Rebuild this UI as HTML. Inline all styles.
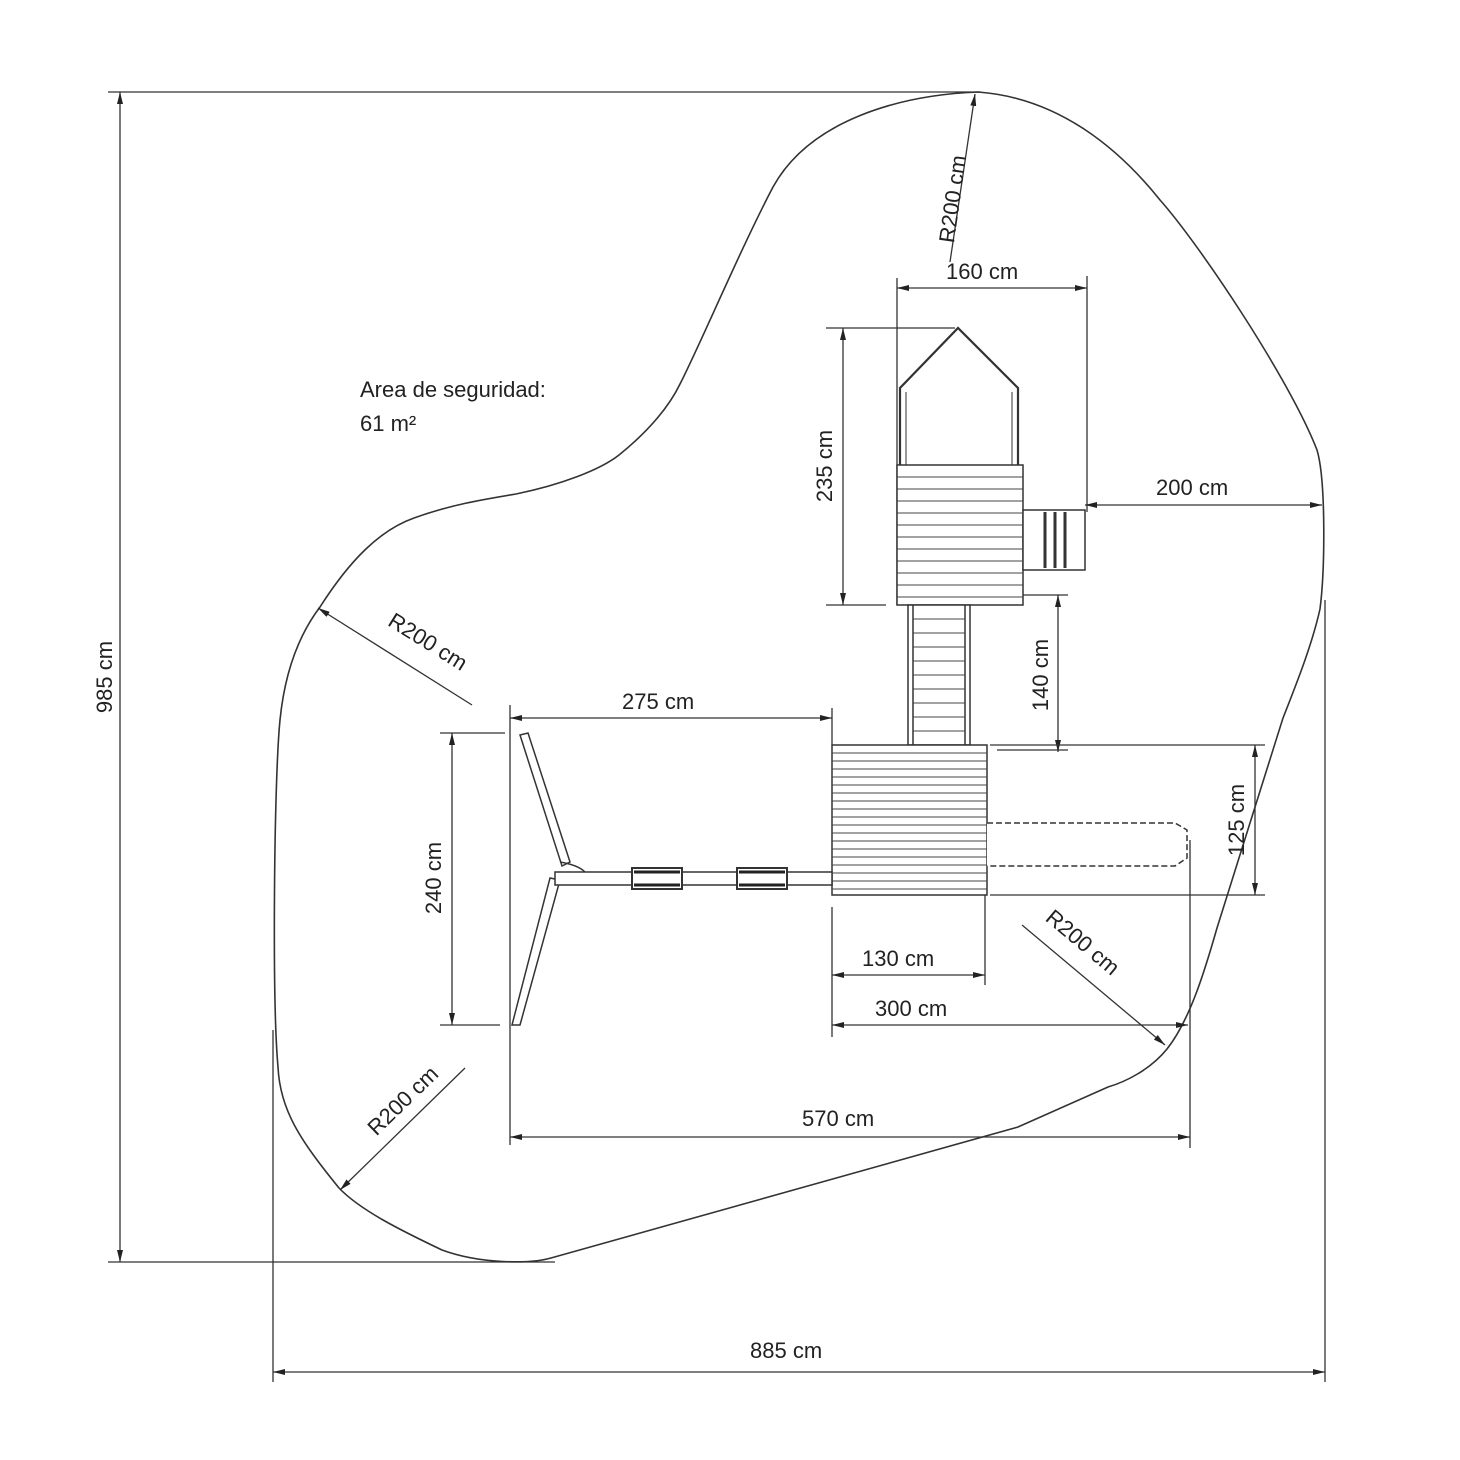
<!DOCTYPE html>
<html><head><meta charset="utf-8"><style>
html,body{margin:0;padding:0;background:#fff;}
svg{display:block;}
text{font-family:"Liberation Sans",Arial,sans-serif;fill:#222;}
</style></head><body>
<svg width="1460" height="1460" viewBox="0 0 1460 1460" xmlns="http://www.w3.org/2000/svg">
<defs>
<marker id="a" viewBox="0 0 12 6" refX="12" refY="3" markerWidth="12" markerHeight="6" orient="auto-start-reverse" markerUnits="userSpaceOnUse"><path d="M0,0 L12,3 L0,6 z" fill="#222"/></marker>
</defs>
<g fill="none" stroke="#333" stroke-width="1.6">
<path d="M978,92 C1060,98 1120,150 1160,200 C1200,245 1290,380 1317,450 C1326,480 1325,570 1320,609 C1312,645 1296,685 1283,718 L1217,928 C1205,970 1190,1020 1167,1049 C1150,1070 1125,1082 1108,1087 L1018,1127 L551,1258 C530,1264 480,1264 442,1250 C400,1230 360,1210 339,1188 C300,1140 280,1110 278,1067 C272,1000 274,780 280,720 C284,680 295,640 320,607 C350,560 380,530 414,518 C450,505 480,500 516,494 C560,485 600,470 619,455 C650,430 670,405 680,384 C700,345 740,250 773,187 C810,120 900,95 978,92 Z"/>
</g>
<g stroke="#333" stroke-width="1.3" fill="none">
<line x1="108" y1="92" x2="980" y2="92"/>
<line x1="108" y1="1262" x2="555" y2="1262"/>
<line x1="120" y1="92" x2="120" y2="1262" marker-start="url(#a)" marker-end="url(#a)"/>
<line x1="273" y1="1030" x2="273" y2="1382"/>
<line x1="1325" y1="600" x2="1325" y2="1382"/>
<line x1="273" y1="1372" x2="1325" y2="1372" marker-start="url(#a)" marker-end="url(#a)"/>
<line x1="975" y1="94" x2="950" y2="262" marker-start="url(#a)"/>
<line x1="897" y1="278" x2="897" y2="605"/>
<line x1="1087" y1="276" x2="1087" y2="512"/>
<line x1="897" y1="288" x2="1087" y2="288" marker-start="url(#a)" marker-end="url(#a)"/>
<line x1="826" y1="328" x2="955" y2="328"/>
<line x1="826" y1="605" x2="886" y2="605"/>
<line x1="843" y1="328" x2="843" y2="605" marker-start="url(#a)" marker-end="url(#a)"/>
<line x1="1085" y1="505" x2="1322" y2="505" marker-start="url(#a)" marker-end="url(#a)"/>
<line x1="1000" y1="595" x2="1068" y2="595"/>
<line x1="1058" y1="595" x2="1058" y2="752" marker-start="url(#a)" marker-end="url(#a)"/>
<line x1="997" y1="750" x2="1068" y2="750"/>
<line x1="990" y1="745" x2="1265" y2="745"/>
<line x1="990" y1="895" x2="1265" y2="895"/>
<line x1="1255" y1="745" x2="1255" y2="895" marker-start="url(#a)" marker-end="url(#a)"/>
<line x1="510" y1="705" x2="510" y2="1145"/>
<line x1="832" y1="708" x2="832" y2="745"/>
<line x1="510" y1="718" x2="832" y2="718" marker-start="url(#a)" marker-end="url(#a)"/>
<line x1="440" y1="733" x2="505" y2="733"/>
<line x1="440" y1="1025" x2="500" y2="1025"/>
<line x1="452" y1="733" x2="452" y2="1025" marker-start="url(#a)" marker-end="url(#a)"/>
<line x1="832" y1="907" x2="832" y2="1037"/>
<line x1="985" y1="895" x2="985" y2="985"/>
<line x1="832" y1="975" x2="985" y2="975" marker-start="url(#a)" marker-end="url(#a)"/>
<line x1="832" y1="1025" x2="1188" y2="1025" marker-start="url(#a)" marker-end="url(#a)"/>
<line x1="1190" y1="840" x2="1190" y2="1148"/>
<line x1="510" y1="1137" x2="1190" y2="1137" marker-start="url(#a)" marker-end="url(#a)"/>
<line x1="318" y1="608" x2="472" y2="705" marker-start="url(#a)"/>
<line x1="1022" y1="925" x2="1165" y2="1045" marker-end="url(#a)"/>
<line x1="340" y1="1190" x2="465" y2="1068" marker-start="url(#a)"/>
</g>
<g stroke="#333" stroke-width="1.5" fill="#fff">
<path d="M900,465 L900,388 L958,328 L1018,388 L1018,465" fill="none" stroke-width="2.2"/>
<path d="M906,465 L906,392 M1012,465 L1012,392" fill="none" stroke-width="1"/>
<rect x="897" y="465" width="126" height="140"/>
<rect x="1023" y="510" width="62" height="60"/>
<line x1="1045" y1="512" x2="1045" y2="568" stroke-width="3"/>
<line x1="1055" y1="512" x2="1055" y2="568" stroke-width="3"/>
<line x1="1065" y1="512" x2="1065" y2="568" stroke-width="3"/>
<rect x="908" y="605" width="62" height="140"/>
<line x1="913" y1="605" x2="913" y2="745"/>
<line x1="965" y1="605" x2="965" y2="745"/>
<rect x="832" y="745" width="155" height="150"/>
<path d="M987,823 L1175,823 L1187,830 L1187,858 L1175,866 L987,866" fill="#fff" stroke-dasharray="6,3"/>
<path d="M520,735 L528,733 L570,862 L562,866 Z"/>
<path d="M512,1025 L520,1025 L560,880 L550,878 Z"/>
<path d="M555,872 L832,872 L832,885 L555,885 Z"/>
<path d="M560,862 Q578,865 585,872" fill="none"/>
<rect x="632" y="868" width="50" height="21" stroke-width="2"/>
<rect x="737" y="868" width="50" height="21" stroke-width="2"/>
</g>
<g stroke="#444" stroke-width="1">
<path d="M897,477H1023M897,489H1023M897,501H1023M897,513H1023M897,525H1023M897,537H1023M897,549H1023M897,561H1023M897,573H1023M897,585H1023M897,597H1023"/>
<path d="M913,619H965M913,633H965M913,647H965M913,661H965M913,675H965M913,689H965M913,703H965M913,717H965M913,731H965"/>
<path d="M832,753H987M832,761H987M832,769H987M832,777H987M832,785H987M832,793H987M832,801H987M832,809H987M832,817H987M832,825H987M832,833H987M832,841H987M832,849H987M832,857H987M832,865H987M832,873H987M832,881H987M832,889H987"/>
<path d="M634,872H680M634,885H680M739,872H785M739,885H785" stroke-width="3" stroke="#222"/>
</g>
<g font-size="22">
<text x="360" y="397">Area de seguridad:</text>
<text x="360" y="431">61 m²</text>
<text x="946" y="279">160 cm</text>
<text x="1156" y="495">200 cm</text>
<text x="622" y="709">275 cm</text>
<text x="862" y="966">130 cm</text>
<text x="875" y="1016">300 cm</text>
<text x="802" y="1126">570 cm</text>
<text x="750" y="1358">885 cm</text>
<text transform="translate(112,677) rotate(-90)" text-anchor="middle">985 cm</text>
<text transform="translate(832,466) rotate(-90)" text-anchor="middle">235 cm</text>
<text transform="translate(1048,675) rotate(-90)" text-anchor="middle">140 cm</text>
<text transform="translate(1244,820) rotate(-90)" text-anchor="middle">125 cm</text>
<text transform="translate(441,878) rotate(-90)" text-anchor="middle">240 cm</text>
<text transform="translate(960,200) rotate(-82)" text-anchor="middle">R200 cm</text>
<text transform="translate(424,648) rotate(32)" text-anchor="middle">R200 cm</text>
<text transform="translate(1078,948) rotate(40)" text-anchor="middle">R200 cm</text>
<text transform="translate(408,1106) rotate(-44)" text-anchor="middle">R200 cm</text>
</g>
</svg>
</body></html>
